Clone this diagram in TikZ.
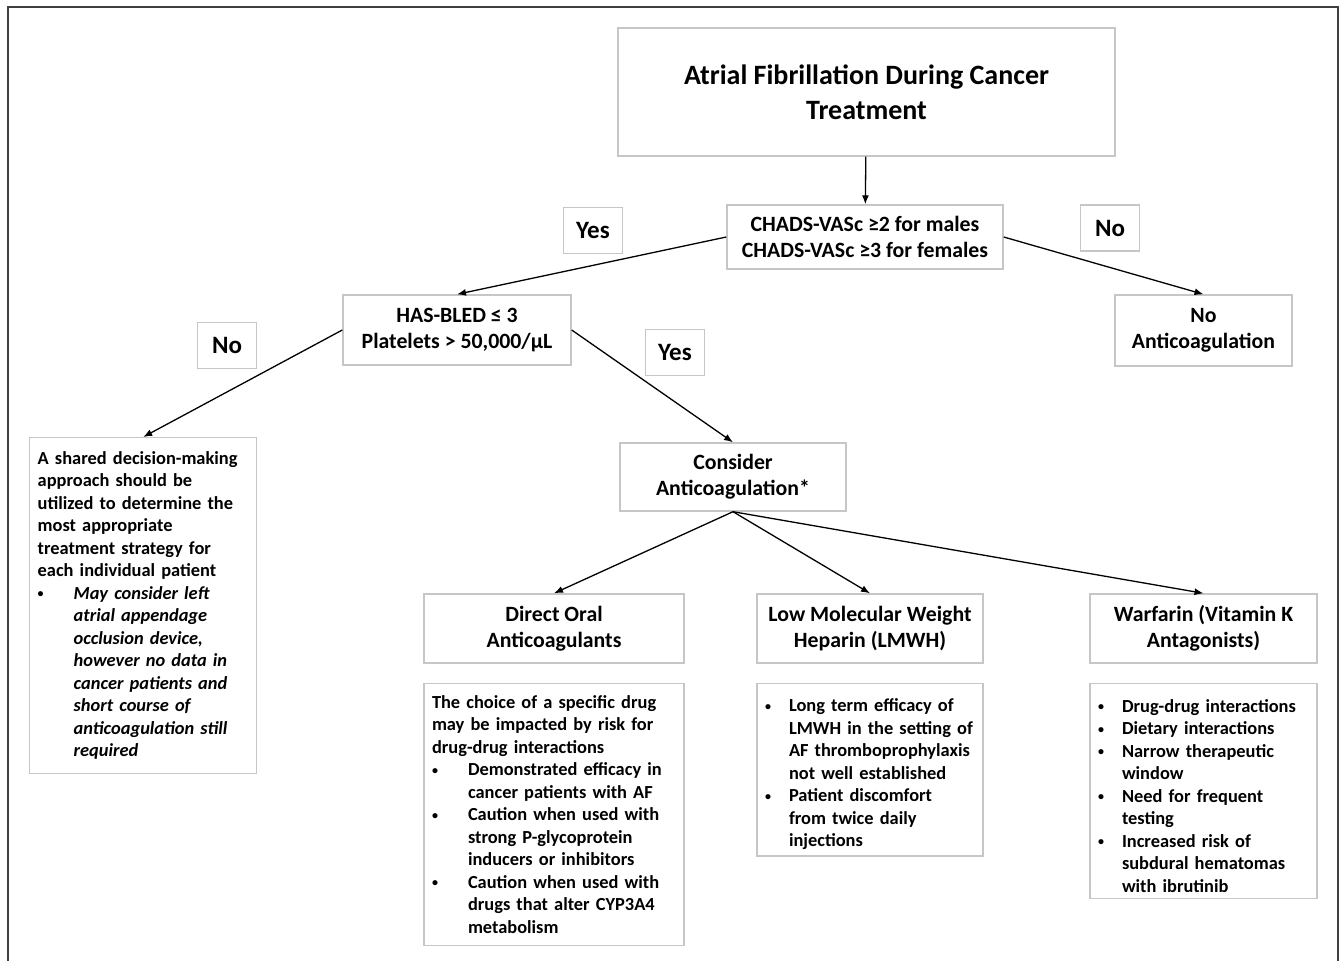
\documentclass[tikz,border=0pt]{standalone}
\usepackage{fontspec}
\setmainfont{Carlito}
\usetikzlibrary{positioning,arrows.meta}

% bullet line with hanging indent
\newcommand{\bul}[2]{\par\noindent\hangindent=#1\hangafter=1%
  \makebox[#1][l]{\raisebox{1.5pt}{\fontsize{12}{12}\selectfont\textbullet}}#2\par}

\begin{document}
\begin{tikzpicture}[
  x=1pt, y=-1pt,
  ->,
  >={Latex[length=9pt,width=7pt]},
  line width=1.3pt,
  node distance=19pt,
  box/.style={draw=gray!45, line width=1.4pt, fill=white, align=center, inner sep=0pt,
    font=\fontsize{21.8}{26}\selectfont\bfseries},
  tag/.style={box, minimum width=59pt, minimum height=46pt,
    font=\fontsize{25}{30}\selectfont\bfseries},
  info/.style={draw=gray!45, line width=1.4pt, align=left, inner xsep=8pt, inner ysep=6pt,
    font=\fontsize{18.4}{22.5}\selectfont\bfseries,
    execute at begin node={\hyphenpenalty=10000\exhyphenpenalty=10000}},
]
  \useasboundingbox (0,0) rectangle (1344,961);
  \draw[-, line width=2.5pt, black!75] (8,975) -- (8,7) -- (1338,7) -- (1338,975);

  % decision nodes
  \node[box, minimum width=497pt, minimum height=128pt,
        font=\fontsize{28}{35}\selectfont\bfseries] (title) at (866.5,92)
        {Atrial Fibrillation During Cancer\\Treatment};
  \node[box, minimum width=276pt, minimum height=64pt] (chads) at (865,237)
        {CHADS-VASc ≥2 for males\\CHADS-VASc ≥3 for females};
  \node[box, minimum width=228pt, minimum height=70pt] (hasbled) at (457,330)
        {HAS-BLED ≤ 3\\Platelets > 50,000/µL};
  \node[box, minimum width=177pt, minimum height=71pt] (noanti) at (1203.5,330.5)
        {No\\Anticoagulation};
  \node[box, minimum width=226pt, minimum height=68pt] (consider) at (733,477)
        {Consider\\Anticoagulation*};

  % yes / no tags
  \node[tag] (yesA) at (593,230.5) {Yes};
  \node[tag] (noA)  at (1110,228)  {No};
  \node[tag] (noB)  at (227,345.5) {No};
  \node[tag] (yesB) at (675,352.5) {Yes};

  % treatment options
  \node[box, minimum width=260pt, minimum height=69pt] (doac) at (554,628.5)
        {Direct Oral\\Anticoagulants};
  \node[box, minimum width=226pt, minimum height=69pt] (lmwh) at (870,628.5)
        {Low Molecular Weight\\Heparin (LMWH)};
  \node[box, minimum width=227pt, minimum height=69pt] (warf) at (1203.5,628.5)
        {Warfarin (Vitamin K\\Antagonists)};

  \node[info, text width=211pt, minimum height=336pt, anchor=north west] (shared) at (29,437) {%
    A shared decision-making\newline approach should be\newline utilized to determine the\newline
    most appropriate\newline treatment strategy for\newline each individual patient
    \bul{36pt}{\itshape May consider left\newline atrial appendage\newline occlusion device,\newline
      however no data in\newline cancer patients and\newline short course of\newline
      anticoagulation still\newline required}};

  \node[info, text width=244pt, minimum height=262pt, below=of doac] (doacinfo) {%
    The choice of a specific drug\newline may be impacted by risk for\newline drug-drug interactions
    \bul{36pt}{Demonstrated efficacy in\newline cancer patients with AF}
    \bul{36pt}{Caution when used with\newline strong P-glycoprotein\newline inducers or inhibitors}
    \bul{36pt}{Caution when used with\newline drugs that alter CYP3A4\newline metabolism}};

  \node[info, text width=210pt, minimum height=171pt, below=of lmwh] (lmwhinfo) {%
    \bul{24pt}{Long term efficacy of\newline LMWH in the setting of\newline AF thromboprophylaxis\newline
      not well established}
    \bul{24pt}{Patient discomfort\newline from twice daily\newline injections}};

  \node[info, text width=211pt, minimum height=215pt, below=of warf] (warfinfo) {%
    \bul{24pt}{Drug-drug interactions}
    \bul{24pt}{Dietary interactions}
    \bul{24pt}{Narrow therapeutic\newline window}
    \bul{24pt}{Need for frequent\newline testing}
    \bul{24pt}{Increased risk of\newline subdural hematomas\newline with ibrutinib}};

  \path (title)           edge (chads)
        (chads.west)      edge (hasbled.north)
        (chads.east)      edge (noanti.north)
        (hasbled.west)    edge (shared.north)
        (hasbled.east)    edge (consider.north)
        (consider.south)  edge (doac.north)
                          edge (lmwh.north)
                          edge (warf.north);
\end{tikzpicture}
\end{document}
